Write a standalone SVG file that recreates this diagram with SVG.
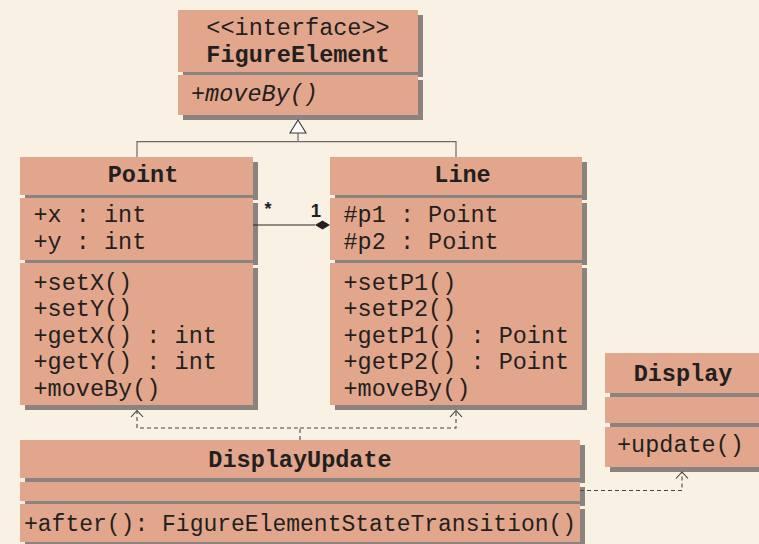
<svg xmlns="http://www.w3.org/2000/svg" width="759" height="544" viewBox="0 0 759 544">
<style>
.c{fill:#e2a68c}
.s{fill:#8a8380}
.t{font-family:"Liberation Mono","Courier New",monospace;font-size:23.5px;fill:#231f20}
.b{font-weight:bold}
.i{font-style:italic}
.m{text-anchor:middle}
.inh{fill:none;stroke:#6e6a67;stroke-width:1.2}
.dep{fill:none;stroke:#4a4643;stroke-width:1.1;stroke-dasharray:4 3}
.ah{fill:none;stroke:#3a3633;stroke-width:1.1}
.lab{font-family:"Liberation Sans",Arial,sans-serif;font-weight:bold;fill:#231f20}
</style>
<rect width="759" height="544" fill="#f8f1e4"/>

<g id="FigureElement">
<rect class="s" x="183" y="15" width="240" height="62"/>
<rect class="s" x="183" y="80" width="240" height="40"/>
<rect class="c" x="178" y="10" width="240" height="62"/>
<rect class="c" x="178" y="75" width="240" height="40"/>
<text class="t m" x="298" y="34.5">&lt;&lt;interface&gt;&gt;</text>
<text class="t m b" x="298" y="61.5">FigureElement</text>
<text class="t i" x="191" y="101">+moveBy()</text>
</g>

<g id="Point">
<rect class="s" x="25" y="162" width="233" height="38"/>
<rect class="s" x="25" y="203" width="233" height="62"/>
<rect class="s" x="25" y="268" width="233" height="142"/>
<rect class="c" x="20" y="157" width="233" height="38"/>
<rect class="c" x="20" y="198" width="233" height="62"/>
<rect class="c" x="20" y="263" width="233" height="142"/>
<text class="t m b" x="143" y="181.5">Point</text>
<text class="t" x="33.5" y="222">+x : int</text>
<text class="t" x="33.5" y="249">+y : int</text>
<text class="t" x="33.5" y="289.5">+setX()</text>
<text class="t" x="33.5" y="316">+setY()</text>
<text class="t" x="33.5" y="342.5">+getX() : int</text>
<text class="t" x="33.5" y="369">+getY() : int</text>
<text class="t" x="33.5" y="396">+moveBy()</text>
</g>

<g id="Line">
<rect class="s" x="335" y="162" width="252" height="38"/>
<rect class="s" x="335" y="203" width="252" height="62"/>
<rect class="s" x="335" y="268" width="252" height="142"/>
<rect class="c" x="330" y="157" width="252" height="38"/>
<rect class="c" x="330" y="198" width="252" height="62"/>
<rect class="c" x="330" y="263" width="252" height="142"/>
<text class="t m b" x="462.5" y="181.5">Line</text>
<text class="t" x="343.5" y="222">#p1 : Point</text>
<text class="t" x="343.5" y="249">#p2 : Point</text>
<text class="t" x="343.5" y="289.5">+setP1()</text>
<text class="t" x="343.5" y="316">+setP2()</text>
<text class="t" x="343.5" y="342.5">+getP1() : Point</text>
<text class="t" x="343.5" y="369">+getP2() : Point</text>
<text class="t" x="343.5" y="396">+moveBy()</text>
</g>

<g id="Display">
<rect class="s" x="610" y="358" width="157" height="40"/>
<rect class="s" x="610" y="402" width="157" height="26"/>
<rect class="s" x="610" y="432" width="157" height="40"/>
<rect class="c" x="605" y="353" width="157" height="40"/>
<rect class="c" x="605" y="397" width="157" height="26"/>
<rect class="c" x="605" y="427" width="157" height="40"/>
<text class="t m b" x="683" y="380.5">Display</text>
<text class="t" x="617" y="451.5">+update()</text>
</g>

<g id="DisplayUpdate">
<rect class="s" x="25" y="445" width="560" height="38"/>
<rect class="s" x="25" y="487" width="560" height="19"/>
<rect class="s" x="25" y="509" width="560" height="40"/>
<rect class="c" x="20" y="440" width="560" height="38"/>
<rect class="c" x="20" y="482" width="560" height="19"/>
<rect class="c" x="20" y="504" width="560" height="38"/>
<text class="t m b" x="300" y="467">DisplayUpdate</text>
<text class="t" x="24" y="531" style="font-size:23px">+after(): FigureElementStateTransition()</text>
</g>

<g id="connectors">
<path class="inh" d="M298,133 V141.7 M137,157 V141.7 H456 V157"/>
<polygon points="298,120 290,133 306,133" fill="#ffffff" stroke="#3a3633" stroke-width="1.1"/>
<path d="M253,225 H315" stroke="#2a2624" stroke-width="1.1" fill="none"/>
<polygon points="315,225 322.5,220.5 330,225 322.5,229.5" fill="#231f20"/>
<text class="lab" x="268" y="215" font-size="18" text-anchor="middle">*</text>
<text class="lab" x="316" y="216.7" font-size="18.5" text-anchor="middle">1</text>
<path class="dep" d="M300,440 V428 H137 V411 M300,428 H456 V411"/>
<path class="ah" d="M131,417 L137,410.5 L143,417 M450,417 L456,410.5 L462,417"/>
<path class="dep" d="M580,490.5 H682 V473"/>
<path class="ah" d="M676,478.5 L682,472 L688,478.5"/>
</g>
</svg>
